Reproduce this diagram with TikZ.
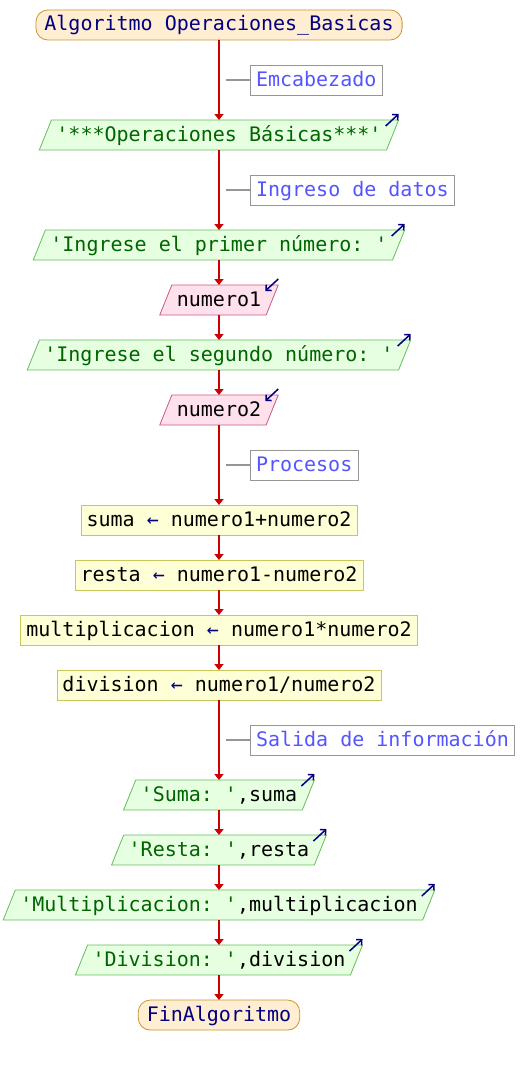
\documentclass[tikz,border=0pt]{standalone}
\usepackage{fontspec}
\setmonofont{DejaVu Sans Mono}
\usepackage{tikz}
\usetikzlibrary{shapes.geometric, arrows.meta, positioning}
\definecolor{inifill}{RGB}{255, 238, 210}
\definecolor{iniborde}{RGB}{200, 150, 50}
\definecolor{salfill}{RGB}{230, 255, 225}
\definecolor{salborde}{RGB}{100, 190, 90}
\definecolor{cadena}{RGB}{0, 100, 0}
\definecolor{entfill}{RGB}{255, 225, 238}
\definecolor{entborde}{RGB}{200, 90, 130}
\definecolor{asigfill}{RGB}{255, 255, 215}
\definecolor{asigborde}{RGB}{200, 200, 90}
\definecolor{notaborde}{RGB}{150, 150, 150}
\definecolor{notatexto}{RGB}{85, 85, 255}
\definecolor{flujo}{RGB}{204, 0, 0}
\definecolor{azul}{RGB}{0, 0, 128}

\begin{document}
\begin{tikzpicture}[
    every node/.style={font=\ttfamily\fontsize{20pt}{24pt}\selectfont, text height=16pt, text depth=4pt,
        inner ysep=5pt, inner xsep=5pt, outer sep=0pt, line width=0.8pt},
    node distance=25pt,
    inicio/.style={draw=iniborde, fill=inifill, text=azul, rounded corners=12pt, inner xsep=8.5pt},
    salida/.style={trapezium, trapezium left angle=68, trapezium right angle=112, draw=salborde, fill=salfill},
    entrada/.style={trapezium, trapezium left angle=68, trapezium right angle=112, draw=entborde, fill=entfill},
    asigna/.style={draw=asigborde, fill=asigfill, inner xsep=5.5pt},
    nota/.style={draw=notaborde, fill=white, text=notatexto, inner xsep=6pt},
    flecha/.style={draw=flujo, line width=1.6pt, -{Triangle[width=9pt,length=6pt]}},
    guia/.style={draw=notaborde, line width=1.8pt},
    icono/.style={draw=azul, line width=1.5pt, -{Straight Barb[length=4pt,width=8pt]}}
]
    \useasboundingbox (0,0) rectangle (524pt,-1065pt);

    \node[inicio] (inicio) at (219pt,-25pt) {Algoritmo Operaciones\_Basicas};
    \node[salida, text=cadena, below=80pt of inicio] (titulo) {'***Operaciones Básicas***'};
    \node[salida, text=cadena, below=80pt of titulo] (pide1) {'Ingrese el primer número: '};
    \node[entrada, below=of pide1] (num1) {numero1};
    \node[salida, text=cadena, below=of num1] (pide2) {'Ingrese el segundo número: '};
    \node[entrada, below=of pide2] (num2) {numero2};
    \node[asigna, below=80pt of num2] (suma) {suma \textcolor{azul}{←} numero1+numero2};
    \node[asigna, below=of suma] (resta) {resta \textcolor{azul}{←} numero1-numero2};
    \node[asigna, below=of resta] (mult) {multiplicacion \textcolor{azul}{←} numero1*numero2};
    \node[asigna, below=of mult] (div) {division \textcolor{azul}{←} numero1/numero2};
    \node[salida, below=80pt of div] (osuma) {\textcolor{cadena}{'Suma: '},suma};
    \node[salida, below=of osuma] (oresta) {\textcolor{cadena}{'Resta: '},resta};
    \node[salida, below=of oresta] (omult) {\textcolor{cadena}{'Multiplicacion: '},multiplicacion};
    \node[salida, below=of omult] (odiv) {\textcolor{cadena}{'Division: '},division};
    \node[inicio, below=of odiv] (fin) {FinAlgoritmo};

    % flujo
    \foreach \a/\b in {inicio/titulo, titulo/pide1, pide1/num1, num1/pide2, pide2/num2, num2/suma,
        suma/resta, resta/mult, mult/div, div/osuma, osuma/oresta, oresta/omult, omult/odiv, odiv/fin}
        \draw[flecha] (\a) -- (\b);

    % comentarios
    \foreach \a/\b/\n/\t in {inicio/titulo/n1/Emcabezado, titulo/pide1/n2/Ingreso de datos,
        num2/suma/n3/Procesos, div/osuma/n4/Salida de información} {
        \path (\a) -- (\b) coordinate[midway] (m\n);
        \node[nota, right=31pt of m\n] (\n) {\t};
        \draw[guia] ([xshift=7pt]m\n) -- (\n);
    }

    % iconos de salida y entrada
    \foreach \n in {titulo, pide1, pide2, osuma, oresta, omult, odiv}
        \draw[icono] ([xshift=-13pt,yshift=-6pt]\n.top right corner) -- ++(13pt,12pt);
    \foreach \n in {num1, num2}
        \draw[icono] ([yshift=6pt]\n.top right corner) -- ++(-13pt,-12pt);
\end{tikzpicture}
\end{document}
